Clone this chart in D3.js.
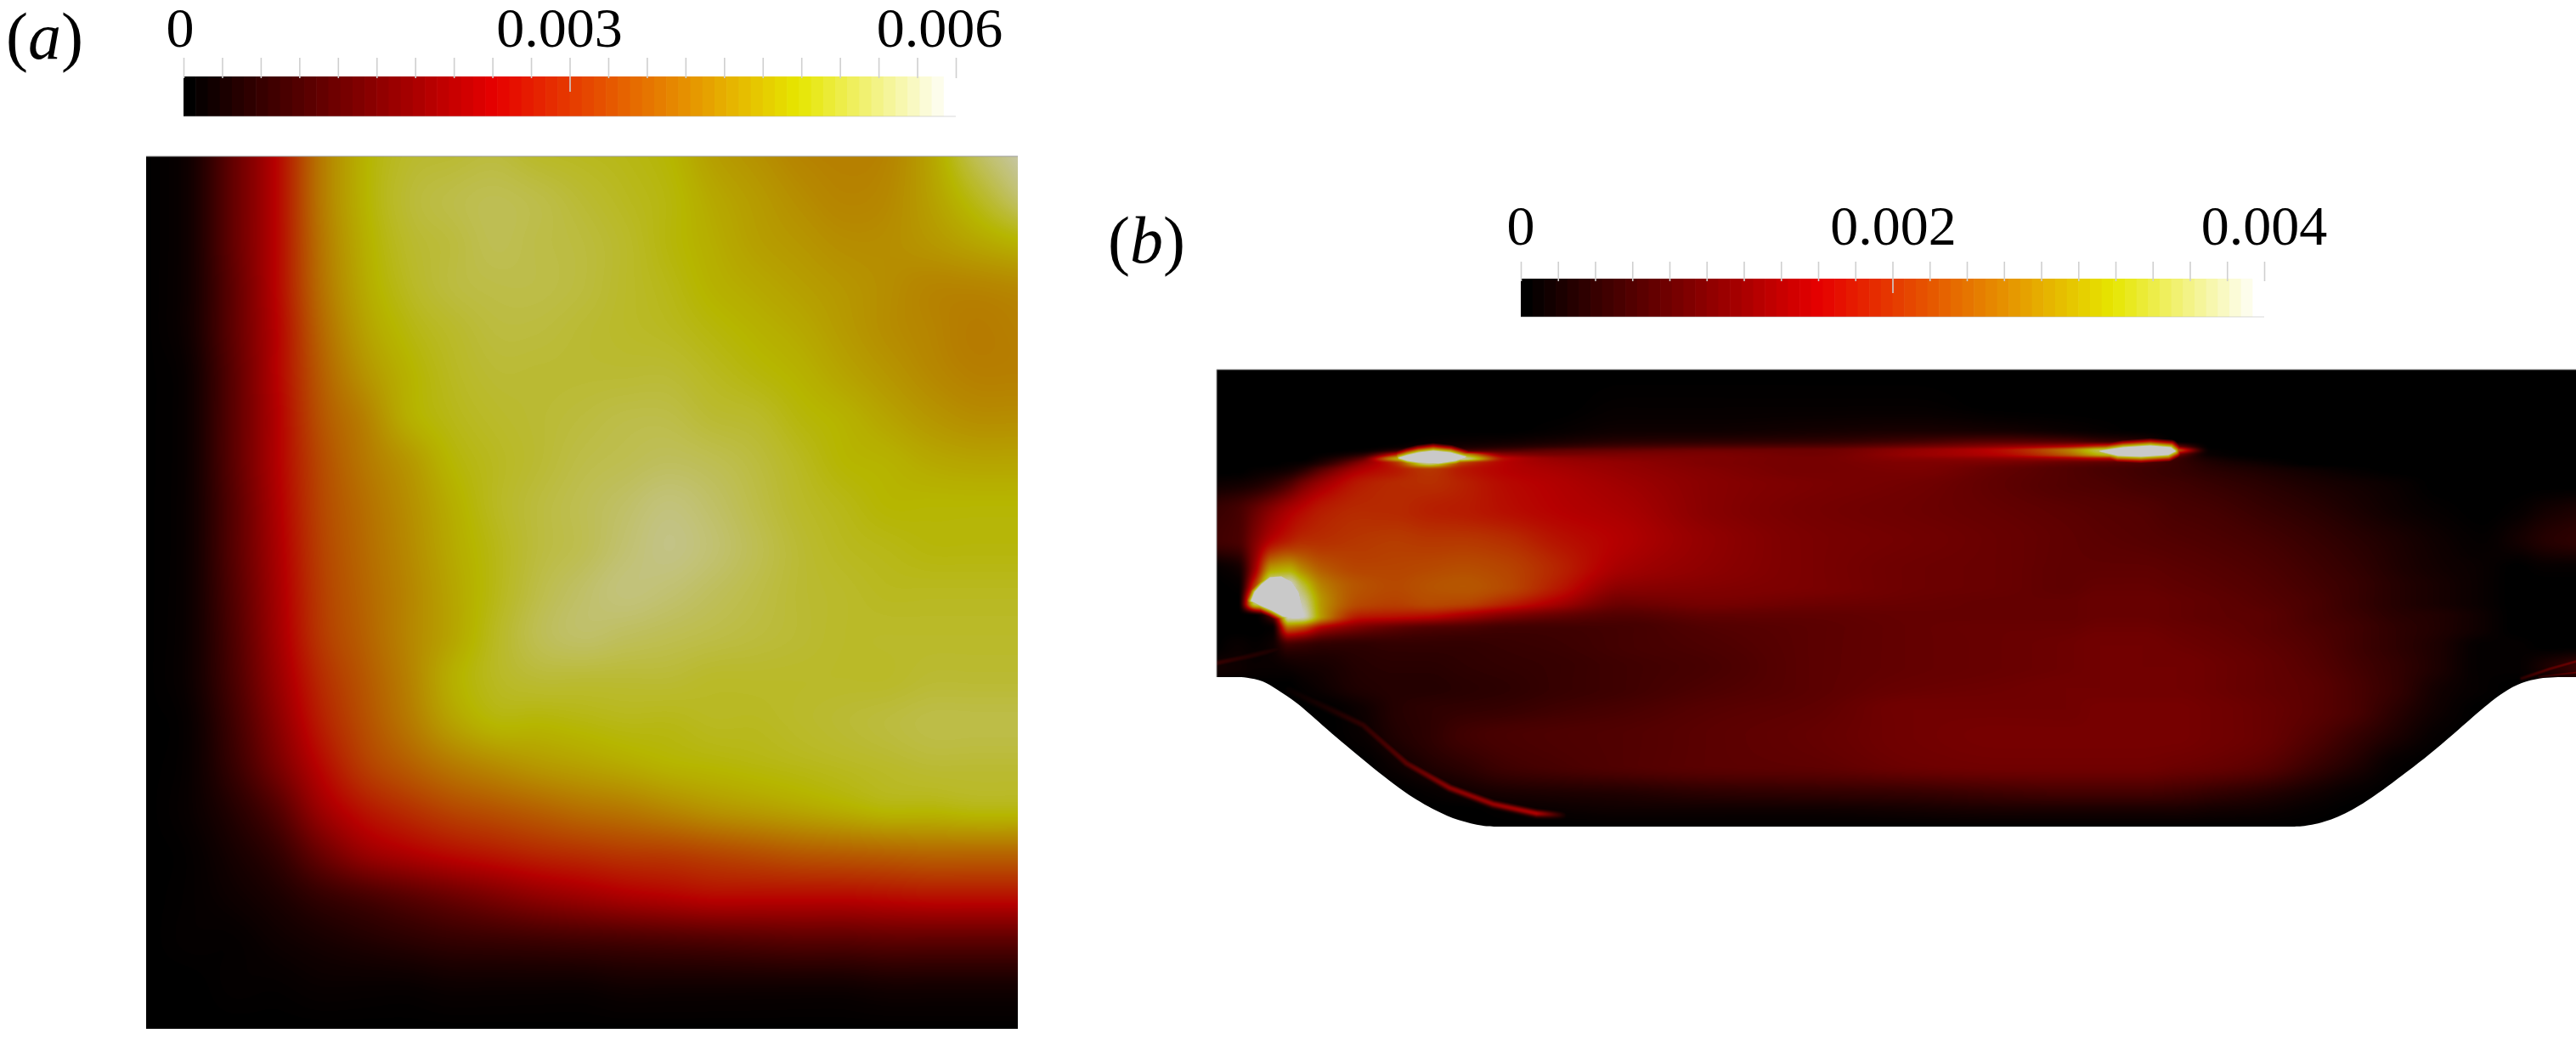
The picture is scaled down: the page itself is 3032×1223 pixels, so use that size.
<!DOCTYPE html>
<html><head><meta charset="utf-8">
<style>html,body{margin:0;padding:0;background:#fff;overflow:hidden}
#wrap{position:relative;width:3032px;height:1223px}
canvas,svg{position:absolute;left:0;top:0}
text{font-family:"Liberation Serif",serif;fill:#000}</style>
<script src="https://cdn.jsdelivr.net/npm/d3@7"></script>
</head><body><div id="wrap"></div>
<script>
// Colour map stops (fraction of the bar -> colour)
const mapStops = [0, 0.4, 0.8, 1];
const mapColours = ["#000000", "#e60000", "#e6e600", "#ffffff"];
const mapBins = 64;
const surfaceBins = 256;
const surfaceShade = 0.79;

// Colour bar values
const barAMax = 0.006, barBMax = 0.004;
const barATicks = ["0", "0.003", "0.006"];
const barBTicks = ["0", "0.002", "0.004"];
const barAValues = [0, 0.003, 0.006];
const barBValues = [0, 0.002, 0.004];
const minorCount = 20;

// Panel a field, percent of the colour bar, read on a 5 % mesh of the square
const aXKnots = [0,5,10,15,20,25,30,35,40,45,50,55,60,65,70,75,80,85,90,95,100];
const aYKnots = [0,5,10,15,20,25,30,35,40,45,50,55,60,65,70,75,80,85,90,95,100];
const aField = [
[0,4,22,41,66,79,84,85,86,84,83,82,80,75,72,69,68,69,76,88,96],
[0,4,22,41,66,79,85,87,88,87,85,83,81,77,74,71,69,70,75,82,90],
[0,4,22,41,65,78,84,86,88,87,86,84,81,78,75,73,71,71,73,76,79],
[0,4,21,41,64,77,83,86,87,87,86,84,82,79,77,75,73,71,69,69,70],
[0,4,21,40,62,75,81,84,86,86,85,84,83,81,79,77,74,71,69,67,68],
[0,3,20,40,60,72,79,83,85,85,85,85,85,83,81,79,76,73,70,68,68],
[0,3,20,39,58,68,78,82,84,85,86,87,87,85,84,81,79,76,73,71,71],
[0,3,20,39,56,66,73,80,83,85,87,88,89,88,86,83,80,79,77,76,76],
[0,3,19,38,55,64,71,78,83,86,88,90,92,90,87,84,82,80,80,80,80],
[0,3,19,37,54,63,70,77,82,86,88,91,93,91,88,85,83,82,81,81,81],
[0,3,18,36,53,62,69,76,82,87,90,92,91,89,87,85,84,83,83,83,83],
[0,3,17,35,52,61,69,76,83,88,90,89,88,87,86,85,84,84,84,84,84],
[0,3,16,33,49,59,68,78,83,85,85,85,85,84,84,84,84,84,85,85,85],
[0,2,14,30,46,57,66,75,80,80,81,82,82,83,83,84,85,86,87,87,87],
[0,2,12,26,41,53,60,66,70,73,75,77,79,80,81,82,83,84,85,85,85],
[0,2,8,18,34,44,50,55,58,61,64,66,69,72,74,76,78,80,80,81,81],
[0,1,5,11,23,33,38,42,45,48,50,52,53,55,57,59,60,61,62,62,62],
[0,1,3,6,11,15,19,23,27,31,34,37,39,41,41,41,41,42,43,43,43],
[0,1,1,3,5,7,9,11,12,13,14,15,16,17,18,19,19,20,20,20,20],
[0,0,1,1,2,2,2,3,3,3,3,4,4,4,4,4,4,5,5,5,5],
[0,0,0,0,0,0,0,0,0,0,0,0,0,0,0,0,0,0,0,0,0]
];

// Panel b field, percent of the colour bar, on a mesh refined round the bright spots
const bXKnots = [0,25,45,65,85,100,125,170,210,250,290,340,400,480,580,700,820,920,1000,1040,1090,1130,1170,1230,1290,1340,1390,1440,1490,1530,1565,1600];
const bYKnots = [0,40,70,84,90,95,100,105,110,118,135,165,200,235,255,275,290,305,325,350,375,400,430,465,500,520,538];
const bField = [
[0,0,0,0,0,0,0,0,0,0,0,0,0,0,0,0,0,0,0,0,0,0,0,0,0,0,0,0,0,0,0,0],
[0,0,0,0,0,0,0,0,0,0,0,0,0,1,1,1,1,0,0,0,0,0,0,0,0,0,0,0,0,0,0,0],
[0,0,0,0,0,0,0,0,0,0,0,0,1,3,3,4,5,4,2,1,0,0,0,0,0,0,0,0,0,0,0,0],
[0,0,0,0,0,0,0,0,0,1,2,3,5,8,9,10,14,18,16,12,9,0,0,0,0,0,0,0,0,0,0,0],
[0,0,0,0,0,0,0,0,1,5,5,7,10,14,16,17,23,30,38,50,60,22,0,0,0,0,0,0,0,0,0,0],
[0,0,0,0,0,0,0,1,10,30,15,16,20,22,24,24,32,42,66,88,100,60,1,0,0,0,0,0,0,0,0,0],
[0,0,0,0,0,0,1,8,45,100,75,30,26,27,27,25,33,40,60,80,95,28,2,0,0,0,0,0,0,0,0,0],
[0,0,0,0,0,0,4,20,75,100,95,42,33,30,28,26,30,31,35,40,40,14,5,1,0,0,0,0,0,0,0,0],
[0,0,0,0,1,2,8,30,50,95,55,40,35,32,28,26,28,26,22,20,17,12,7,3,0,0,0,0,0,0,0,0],
[0,0,1,2,4,8,20,38,45,52,45,40,37,33,29,26,27,22,18,16,14,12,9,6,3,1,0,0,0,0,0,0],
[3,4,6,10,17,25,35,46,49,50,47,42,39,35,30,27,25,21,18,17,15,14,12,9,6,4,2,0,0,0,0,0],
[12,15,22,30,37,41,46,49,49,47,46,43,40,37,30,26,24,22,20,19,18,16,15,12,9,6,3,1,0,1,4,6],
[14,16,28,40,46,49,50,52,53,52,52,50,44,39,32,27,25,23,21,20,19,18,17,15,12,9,6,3,1,4,8,10],
[1,4,35,75,78,70,60,55,55,56,57,55,48,36,31,27,24,23,21,21,21,20,19,17,14,11,7,4,2,0,1,1],
[0,1,55,100,100,88,68,58,56,58,59,56,46,31,29,27,24,23,21,22,22,21,20,18,15,12,8,5,2,0,0,0],
[0,0,90,100,100,97,72,56,54,56,55,48,37,24,26,24,23,22,22,23,23,22,21,19,16,12,8,5,2,0,0,0],
[0,0,0,20,100,100,72,46,44,42,36,28,22,18,21,21,22,22,22,23,23,22,21,20,16,13,9,7,3,0,0,0],
[0,0,0,1,60,55,36,25,20,17,16,14,14,15,18,20,22,23,23,24,24,23,22,20,17,14,10,7,3,0,0,0],
[0,2,1,3,13,12,10,10,11,11,11,12,13,15,17,20,22,23,24,25,25,24,23,21,18,14,10,6,1,1,0,0],
[4,3,2,2,3,4,5,8,9,9,10,11,12,14,16,20,22,23,24,25,25,25,24,22,19,15,11,6,1,1,6,12],
[0,0,0,0,0,1,3,7,8,8,9,10,12,14,17,20,23,24,25,25,25,25,24,22,20,16,11,4,1,0,0,0],
[0,0,0,0,0,0,0,3,8,10,11,12,14,16,19,21,25,25,25,26,26,26,25,23,20,16,9,3,0,0,0,0],
[0,0,0,0,0,0,0,2,7,10,14,16,17,18,20,22,25,26,26,26,26,26,25,23,18,12,6,1,0,0,0,0],
[0,0,0,0,0,0,0,0,3,7,10,14,16,18,20,21,24,25,25,25,25,24,23,20,13,7,1,0,0,0,0,0],
[0,0,0,0,0,0,0,0,0,1,3,5,6,7,9,10,11,13,14,14,14,13,11,8,4,1,0,0,0,0,0,0],
[0,0,0,0,0,0,0,0,0,0,0,1,2,3,3,3,4,5,5,5,5,5,4,3,1,0,0,0,0,0,0,0],
[0,0,0,0,0,0,0,0,0,0,0,0,0,0,0,0,0,0,0,0,0,0,0,0,0,0,0,0,0,0,0,0]
];

// Panel b lower wall of the channel, mesh units
const wallX = [0,12,24,34,55,70,95,121,172,223,259,284,315,330,345,1250,1265,1280,1312,1344,1381,1435,1488,1515,1536,1557,1575,1590,1600];
const wallY = [362,362,362,362,366,376,392,416,459,500,520,531,538,538,538,538,538,538,531,515,489,448,400,379,368,363,362,362,362];

// Panel b thin sheets, mesh units, with their level in percent
const sheet1X = [85,130,172,223,274,325,376,407], sheet1Y = [377,398,418,463,492,511,522,524], sheet1V = [2,6,11,20,30,33,38,6];
const sheet2X = [0,38,78], sheet2Y = [345,337,327], sheet2V = [12,8,6];
const sheet3X = [1536,1568,1600], sheet3Y = [363,352,343], sheet3V = [10,20,24];
const sheet4X = [1556,1600], sheet4Y = [361,356], sheet4V = [8,22];

// Panel b saturated spots, outlines in mesh units
const spot1X = [41,45,53,63,76,88,96,100,102,91,78,65,51], spot1Y = [272,262,253,245,244,250,262,278,292,293,290,283,277];
const spot2X = [215,225,238,255,275,293,281,261,238,225], spot2Y = [104,101,98,96,98,103,107,110,109,107];
const spot3X = [1040,1067,1099,1123,1128,1120,1088,1061], spot3Y = [96,92,90,92,96,100,102,101];
const spotFade = 10;

// ---- scales
const aX = d3.scaleLinear().domain([0,100]).range([172,1198]);
const aY = d3.scaleLinear().domain([0,100]).range([184,1211]);
const bX = d3.scaleLinear().domain([0,1600]).range([1432,3032]);
const bY = d3.scaleLinear().domain([0,538]).range([435,973]);
const barAX = d3.scaleLinear().domain([0,barAMax]).range([216,1125]);
const barBX = d3.scaleLinear().domain([0,barBMax]).range([1790,2665]);
const mapFn = d3.scaleLinear().domain(mapStops).range(mapColours).interpolate(d3.interpolateRgb);
const binColours = d3.range(mapBins).map(i => mapFn(i/(mapBins-1)));
const binIndex = d3.scaleQuantize().domain([0,100]).range(d3.range(surfaceBins));
const shaded = d3.range(surfaceBins).map(i => { const r = d3.rgb(mapFn(i/(surfaceBins-1))); return [r.r*surfaceShade, r.g*surfaceShade, r.b*surfaceShade]; });

// ---- cubic through the mesh knots (limited = monotone, otherwise Catmull-Rom)
function slopes(x, y, limited){
  const n = x.length, d = [], m = new Array(n);
  for (let i=0;i<n-1;i++) d.push((y[i+1]-y[i])/(x[i+1]-x[i]));
  m[0]=d[0]; m[n-1]=d[n-2];
  for (let i=1;i<n-1;i++){
    if (!limited) m[i]=(y[i+1]-y[i-1])/(x[i+1]-x[i-1]);
    else if (d[i-1]*d[i]<=0) m[i]=0;
    else { const a=x[i]-x[i-1], b=x[i+1]-x[i]; m[i]=(a+b)*3/((2*b+a)/d[i-1]+(b+2*a)/d[i]); }
  }
  return m;
}
function evalAt(x,y,m,q){
  let i = d3.bisectRight(x,q)-1;
  if (i<0) return y[0];
  if (i>=x.length-1) return y[x.length-1];
  const h=x[i+1]-x[i], t=(q-x[i])/h, t2=t*t, t3=t2*t;
  return (2*t3-3*t2+1)*y[i]+(t3-2*t2+t)*h*m[i]+(-2*t3+3*t2)*y[i+1]+(t3-t2)*h*m[i+1];
}
function raster(xk,yk,grid,sx,sy,limited){
  const x0=Math.round(sx.range()[0]), x1=Math.round(sx.range()[1]);
  const y0=Math.round(sy.range()[0]), y1=Math.round(sy.range()[1]);
  const w=x1-x0, h=y1-y0, out=new Float32Array(w*h);
  const colS = xk.map((_,j)=>{ const c=grid.map(r=>r[j]); return {c,m:slopes(yk,c,limited)}; });
  for (let py=0;py<h;py++){
    const q=sy.invert(y0+py+.5);
    const vals=colS.map(s=>evalAt(yk,s.c,s.m,q));
    const m=slopes(xk,vals,limited);
    for (let px=0;px<w;px++) out[py*w+px]=evalAt(xk,vals,m,sx.invert(x0+px+.5));
  }
  return {out,w,h,x0,y0};
}
function brush(f,sx,sy,X,Y,V,sigma){
  const dist=[0];
  for(let i=1;i<X.length;i++) dist.push(dist[i-1]+Math.hypot(X[i]-X[i-1],Y[i]-Y[i-1]));
  const px=d3.scaleLinear().domain(dist).range(X), py=d3.scaleLinear().domain(dist).range(Y), pv=d3.scaleLinear().domain(dist).range(V);
  const R=Math.ceil(sigma*3);
  for(let s=0;s<=dist[dist.length-1];s+=0.5){
    const cx=sx(px(s))-f.x0, cy=sy(py(s))-f.y0, v=pv(s);
    for(let yy=Math.floor(cy-R);yy<=cy+R;yy++){ if(yy<0||yy>=f.h) continue;
      for(let xx=Math.floor(cx-R);xx<=cx+R;xx++){ if(xx<0||xx>=f.w) continue;
        const d2=(xx-cx)*(xx-cx)+(yy-cy)*(yy-cy);
        const val=v*Math.exp(-d2/(2*sigma*sigma));
        const k=yy*f.w+xx; if(val>f.out[k]) f.out[k]=val;
      }}
  }
}
function segDist(p,a,b){
  const vx=b[0]-a[0], vy=b[1]-a[1];
  const t=Math.max(0,Math.min(1,((p[0]-a[0])*vx+(p[1]-a[1])*vy)/(vx*vx+vy*vy)));
  return Math.hypot(p[0]-a[0]-t*vx,p[1]-a[1]-t*vy);
}
function spot(f,sx,sy,X,Y,fade){
  const poly=X.map((x,i)=>[sx(x)-f.x0,sy(Y[i])-f.y0]);
  const ex=d3.extent(poly,p=>p[0]), ey=d3.extent(poly,p=>p[1]);
  for(let yy=Math.max(0,Math.floor(ey[0]-fade));yy<=Math.min(f.h-1,ey[1]+fade);yy++)
    for(let xx=Math.max(0,Math.floor(ex[0]-fade));xx<=Math.min(f.w-1,ex[1]+fade);xx++){
      const p=[xx+.5,yy+.5];
      let v=100;
      if(!d3.polygonContains(poly,p)){
        let d=1e9;
        for(let i=0;i<poly.length;i++) d=Math.min(d,segDist(p,poly[i],poly[(i+1)%poly.length]));
        v=100*Math.max(0,1-d/fade);
      }
      const k=yy*f.w+xx; if(v>f.out[k]) f.out[k]=v;
    }
}
function toCanvas(f){
  const c=document.createElement("canvas"); c.width=f.w; c.height=f.h;
  const ctx=c.getContext("2d"), img=ctx.createImageData(f.w,f.h);
  for(let k=0;k<f.out.length;k++){
    const col=shaded[binIndex(Math.max(0,Math.min(100,f.out[k])))];
    img.data[4*k]=col[0]; img.data[4*k+1]=col[1]; img.data[4*k+2]=col[2]; img.data[4*k+3]=255;
  }
  ctx.putImageData(img,0,0);
  return c;
}

// ---- page
const wrap=d3.select("#wrap");
const cv=wrap.append("canvas").attr("width",3032).attr("height",1223);
const ctx=cv.node().getContext("2d");
ctx.fillStyle="#fff"; ctx.fillRect(0,0,3032,1223);

const fa=raster(aXKnots,aYKnots,aField,aX,aY,false);
ctx.drawImage(toCanvas(fa),fa.x0,fa.y0);

const fb=raster(bXKnots,bYKnots,bField,bX,bY,true);
brush(fb,bX,bY,sheet1X,sheet1Y,sheet1V,2.8);
brush(fb,bX,bY,sheet2X,sheet2Y,sheet2V,2.5);
brush(fb,bX,bY,sheet3X,sheet3Y,sheet3V,1.6);
brush(fb,bX,bY,sheet4X,sheet4Y,sheet4V,1.2);
spot(fb,bX,bY,spot1X,spot1Y,spotFade);
spot(fb,bX,bY,spot2X,spot2Y,spotFade);
spot(fb,bX,bY,spot3X,spot3Y,spotFade);
ctx.save();
const channel=d3.area().x(d=>bX(d[0])).y0(bY(0)).y1(d=>bY(d[1])).curve(d3.curveBasis).context(ctx);
ctx.beginPath();
channel(wallX.map((x,i)=>[x,wallY[i]]));
ctx.clip();
ctx.drawImage(toCanvas(fb),fb.x0,fb.y0);
ctx.restore();

const svg=wrap.append("svg").attr("width",3032).attr("height",1223);

// panel edges
const edge="#9a9a9a";
svg.append("line").attr("x1",aX(0)).attr("x2",aX(100)).attr("y1",aY(0)).attr("y2",aY(0)).attr("stroke",edge).attr("stroke-width",1);
svg.append("line").attr("x1",bX(0)).attr("x2",bX(1600)).attr("y1",bY(0)).attr("y2",bY(0)).attr("stroke",edge).attr("stroke-width",1);
svg.append("line").attr("x1",bX(0)).attr("x2",bX(0)).attr("y1",bY(0)).attr("y2",bY(362)).attr("stroke",edge).attr("stroke-width",1);

function colourBar(scale,maxV,labels,values,top,bottom,tickTop,tickEnd,midEnd,labelY,labelShift){
  const g=svg.append("g");
  const x0=scale(0), step=(scale(maxV)-x0)/mapBins;
  g.selectAll("rect.bin").data(binColours).join("rect").attr("class","bin")
    .attr("x",(d,i)=>x0+i*step).attr("y",top).attr("width",step+.6).attr("height",bottom-top).attr("fill",d=>d);
  g.append("line").attr("x1",x0).attr("x2",scale(maxV)).attr("y1",bottom).attr("y2",bottom).attr("stroke","#bbb").attr("stroke-opacity",.55);
  const tv=d3.range(minorCount+1).map(i=>i*maxV/minorCount);
  const axis=d3.axisTop(scale).tickValues(tv).tickSize(0).tickFormat("");
  const ax=g.append("g").attr("transform",`translate(0,${tickTop})`).call(axis);
  ax.select(".domain").remove();
  ax.selectAll(".tick line").attr("y1",0).attr("y2",(d,i)=>(i===minorCount/2?midEnd:tickEnd)-tickTop).attr("stroke","#cfcfcf").attr("stroke-width",1.6);
  g.selectAll("text.lab").data(labels).join("text").attr("class","lab")
    .attr("x",(d,i)=>scale(values[i])+labelShift[i]).attr("y",labelY)
    .attr("text-anchor","middle").attr("font-size",66).text(d=>d);
}
colourBar(barAX,barAMax,barATicks,barAValues,90,137,68,92,108,55,[-4,-12,-19]);
colourBar(barBX,barBMax,barBTicks,barBValues,328,373,308,331,345,288,[0,1,0]);

function panelLabel(x,y,letter){
  const t=svg.append("text").attr("x",x).attr("y",y).attr("font-size",78);
  t.append("tspan").text("(");
  t.append("tspan").attr("font-style","italic").text(letter);
  t.append("tspan").text(")");
}
panelLabel(7,69,"a");
panelLabel(1304,309,"b");
</script></body></html>
